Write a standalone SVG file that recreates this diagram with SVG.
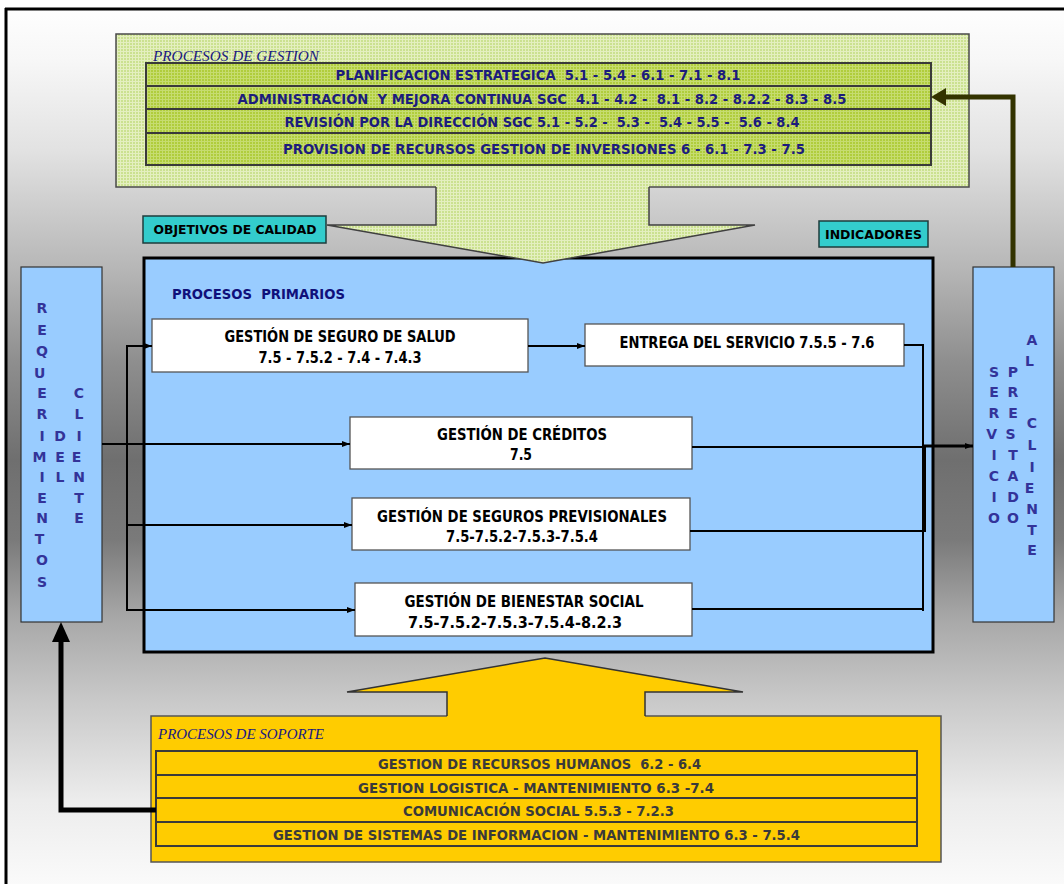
<svg xmlns="http://www.w3.org/2000/svg" width="1064" height="884" viewBox="0 0 1064 884">
  <defs>
    <linearGradient id="bgGrad" gradientUnits="userSpaceOnUse" x1="0" y1="0" x2="0" y2="884">
      <stop offset="0" stop-color="#ffffff"/>
      <stop offset="0.068" stop-color="#f7f7f7"/>
      <stop offset="0.17" stop-color="#e2e2e2"/>
      <stop offset="0.305" stop-color="#b6b6b6"/>
      <stop offset="0.41" stop-color="#8e8e8e"/>
      <stop offset="0.52" stop-color="#6f6f6f"/>
      <stop offset="0.61" stop-color="#7a7a7a"/>
      <stop offset="0.70" stop-color="#a8a8a8"/>
      <stop offset="0.79" stop-color="#c8c8c8"/>
      <stop offset="0.905" stop-color="#ececec"/>
      <stop offset="1" stop-color="#fafafa"/>
    </linearGradient>
    <pattern id="greenLight" width="3" height="3" patternUnits="userSpaceOnUse">
      <rect width="3" height="3" fill="#cbe190"/>
      <rect width="1" height="3" fill="#e4efc0"/>
      <rect width="3" height="1" fill="#e4efc0"/>
    </pattern>
    <pattern id="greenRow" width="3" height="3" patternUnits="userSpaceOnUse">
      <rect width="3" height="3" fill="#b0cd3c"/>
      <rect width="1" height="3" fill="#c6dc70"/>
      <rect width="3" height="1" fill="#c6dc70"/>
    </pattern>
    <marker id="tip" viewBox="0 0 8 6" refX="8" refY="3" markerWidth="8" markerHeight="6" markerUnits="userSpaceOnUse" orient="auto">
      <path d="M0,0 L8,3 L0,6 z" fill="#000"/>
    </marker>
    <style>
      .cond { font-family: "DejaVu Sans Condensed", "DejaVu Sans", "Liberation Sans", sans-serif; font-weight: bold; }
      .mgmt { font-size: 14px; fill: #1c1c7c; text-anchor: middle; }
      .prim { font-size: 15px; fill: #000; text-anchor: middle; }
      .supp { font-size: 14px; fill: #3a3a3a; text-anchor: middle; }
      .tag { font-size: 13px; fill: #000; text-anchor: middle; }
      .title { font-family: "Liberation Serif", serif; font-style: italic; font-size: 15px; fill: #1a1a80; }
      .ptitle { font-size: 14px; fill: #10107a; }
      .vert { font-family: "DejaVu Sans", "Liberation Sans", sans-serif; font-weight: bold; font-size: 14px; fill: #333399; text-anchor: middle; }
      .row { stroke: #3a3a3a; stroke-width: 2; }
      .white { fill: #ffffff; stroke: #555555; stroke-width: 1.3; }
      .side { fill: #99ccff; stroke: #333333; stroke-width: 1.2; }
      .teal { fill: #33cccc; stroke: #1e3c3c; stroke-width: 1.5; }
      .link { fill: none; stroke: #000; stroke-width: 2; }
    </style>
  </defs>

  <!-- page background and frame -->
  <rect x="0" y="0" width="1064" height="884" fill="#ffffff"/>
  <rect x="6" y="9" width="1058" height="875" fill="url(#bgGrad)"/>
  <line x1="6" y1="8" x2="6" y2="884" stroke="#000" stroke-width="3"/>
  <line x1="5" y1="9" x2="1064" y2="9" stroke="#000" stroke-width="3"/>

  <!-- management processes -->
  <g id="procesos-gestion">
    <rect x="116" y="34" width="853" height="153" fill="url(#greenLight)" stroke="#4a4a4a" stroke-width="1.5"/>
    <rect x="146" y="63" width="785" height="23" fill="url(#greenRow)" class="row"/>
    <rect x="146" y="86" width="785" height="23" fill="url(#greenRow)" class="row"/>
    <rect x="146" y="109" width="785" height="24" fill="url(#greenRow)" class="row"/>
    <rect x="146" y="133" width="785" height="32" fill="url(#greenRow)" class="row"/>
    <text class="title" x="153" y="61" textLength="166" lengthAdjust="spacingAndGlyphs">PROCESOS DE GESTION</text>
    <text class="cond mgmt" x="538" y="80" textLength="405" lengthAdjust="spacingAndGlyphs" xml:space="preserve">PLANIFICACION ESTRATEGICA  5.1 - 5.4 - 6.1 - 7.1 - 8.1</text>
    <text class="cond mgmt" x="542" y="104" textLength="609" lengthAdjust="spacingAndGlyphs" xml:space="preserve">ADMINISTRACIÓN  Y MEJORA CONTINUA SGC  4.1 - 4.2 -  8.1 - 8.2 - 8.2.2 - 8.3 - 8.5</text>
    <text class="cond mgmt" x="542" y="127" textLength="515" lengthAdjust="spacingAndGlyphs" xml:space="preserve">REVISIÓN POR LA DIRECCIÓN SGC 5.1 - 5.2 -  5.3 -  5.4 - 5.5 -  5.6 - 8.4</text>
    <text class="cond mgmt" x="544" y="154" textLength="522" lengthAdjust="spacingAndGlyphs">PROVISION DE RECURSOS GESTION DE INVERSIONES 6 - 6.1 - 7.3 - 7.5</text>
  </g>

  <g id="objetivos-calidad">
    <rect x="143" y="216" width="183" height="27" class="teal"/>
    <text class="cond tag" x="235" y="234" textLength="163" lengthAdjust="spacingAndGlyphs">OBJETIVOS DE CALIDAD</text>
  </g>
  <g id="indicadores">
    <rect x="819" y="221" width="109" height="26" class="teal"/>
    <text class="cond tag" x="873.5" y="239" textLength="97" lengthAdjust="spacingAndGlyphs">INDICADORES</text>
  </g>

  <!-- client requirements -->
  <g id="requerimientos">
    <rect x="21" y="267" width="81" height="355" class="side"/>
    <text class="vert">
      <tspan x="42" y="313">R</tspan><tspan x="42" y="335">E</tspan><tspan x="42" y="356">Q</tspan><tspan x="42" y="378">U</tspan>
      <tspan x="42" y="398">E</tspan><tspan x="42" y="419">R</tspan><tspan x="42" y="441">I</tspan><tspan x="42" y="462">M</tspan>
      <tspan x="42" y="482">I</tspan><tspan x="42" y="503">E</tspan><tspan x="42" y="523">N</tspan><tspan x="42" y="544">T</tspan>
      <tspan x="42" y="565">O</tspan><tspan x="42" y="587">S</tspan>
    </text>
    <text class="vert">
      <tspan x="60" y="441">D</tspan><tspan x="60" y="462">E</tspan><tspan x="60" y="482">L</tspan>
    </text>
    <text class="vert">
      <tspan x="79" y="398">C</tspan><tspan x="79" y="419">L</tspan><tspan x="79" y="441">I</tspan><tspan x="79" y="462">E</tspan>
      <tspan x="79" y="482">N</tspan><tspan x="79" y="503">T</tspan><tspan x="79" y="523">E</tspan>
    </text>
  </g>

  <!-- service delivered -->
  <g id="servicio-prestado">
    <rect x="973" y="267" width="81" height="355" class="side"/>
    <text class="vert">
      <tspan x="994" y="377">S</tspan><tspan x="994" y="397">E</tspan><tspan x="994" y="418">R</tspan><tspan x="994" y="439">V</tspan>
      <tspan x="994" y="460">I</tspan><tspan x="994" y="481">C</tspan><tspan x="994" y="502">I</tspan><tspan x="994" y="523">O</tspan>
    </text>
    <text class="vert">
      <tspan x="1013" y="377">P</tspan><tspan x="1013" y="397">R</tspan><tspan x="1013" y="418">E</tspan><tspan x="1013" y="439">S</tspan>
      <tspan x="1013" y="460">T</tspan><tspan x="1013" y="481">A</tspan><tspan x="1013" y="502">D</tspan><tspan x="1013" y="523">O</tspan>
    </text>
    <text class="vert">
      <tspan x="1032" y="345">A</tspan><tspan x="1032" y="366">L</tspan>
      <tspan x="1032" y="428">C</tspan><tspan x="1032" y="450">L</tspan><tspan x="1032" y="472">I</tspan><tspan x="1032" y="493">E</tspan>
      <tspan x="1032" y="514">N</tspan><tspan x="1032" y="535">T</tspan><tspan x="1032" y="555">E</tspan>
    </text>
  </g>

  <!-- primary processes -->
  <g id="procesos-primarios">
    <rect x="144" y="258" width="789" height="394" fill="#99ccff" stroke="#000" stroke-width="3"/>
    <text class="cond ptitle" x="172" y="299" textLength="173" lengthAdjust="spacingAndGlyphs" xml:space="preserve">PROCESOS  PRIMARIOS</text>
  </g>

  <!-- management arrow into primary processes -->
  <g id="flecha-gestion">
    <polygon points="436,186 436,225 327,225 543,263 755,225 649,225 649,186" fill="url(#greenLight)"/>
    <polyline points="436,187 436,225 327,225 543,263 755,225 649,225 649,187" fill="none" stroke="#404040" stroke-width="1.5"/>
  </g>

  <g id="seguro-salud">
    <rect x="152" y="319" width="376" height="53" class="white"/>
    <text class="cond prim" x="340" y="342" textLength="231" lengthAdjust="spacingAndGlyphs">GESTIÓN DE SEGURO DE SALUD</text>
    <text class="cond prim" x="340" y="363" textLength="163" lengthAdjust="spacingAndGlyphs">7.5 - 7.5.2 - 7.4 - 7.4.3</text>
  </g>
  <g id="entrega-servicio">
    <rect x="585" y="324" width="319" height="42" class="white"/>
    <text class="cond prim" x="747" y="348" textLength="255" lengthAdjust="spacingAndGlyphs">ENTREGA DEL SERVICIO 7.5.5 - 7.6</text>
  </g>
  <g id="creditos">
    <rect x="350" y="417" width="342" height="52" class="white"/>
    <text class="cond prim" x="522" y="440" textLength="170" lengthAdjust="spacingAndGlyphs">GESTIÓN DE CRÉDITOS</text>
    <text class="cond prim" x="521" y="460" textLength="22" lengthAdjust="spacingAndGlyphs">7.5</text>
  </g>
  <g id="seguros-previsionales">
    <rect x="352" y="498" width="338" height="52" class="white"/>
    <text class="cond prim" x="522" y="522" textLength="290" lengthAdjust="spacingAndGlyphs">GESTIÓN DE SEGUROS PREVISIONALES</text>
    <text class="cond prim" x="522" y="542" textLength="152" lengthAdjust="spacingAndGlyphs">7.5-7.5.2-7.5.3-7.5.4</text>
  </g>
  <g id="bienestar-social">
    <rect x="355" y="583" width="337" height="53" class="white"/>
    <text class="cond prim" x="524" y="607" textLength="239" lengthAdjust="spacingAndGlyphs">GESTIÓN DE BIENESTAR SOCIAL</text>
    <text class="cond prim" x="515" y="628" textLength="214" lengthAdjust="spacingAndGlyphs">7.5-7.5.2-7.5.3-7.5.4-8.2.3</text>
  </g>

  <!-- support processes -->
  <g id="procesos-soporte">
    <rect x="151" y="716" width="790" height="146" fill="#ffcc00" stroke="#555555" stroke-width="1.5"/>
    <polygon points="447,718 447,692 347,692 545,658 743,692 645,692 645,718" fill="#ffcc00"/>
    <polyline points="447,716 447,692 347,692 545,658 743,692 645,692 645,716" fill="none" stroke="#333333" stroke-width="1.5"/>
    <text class="title" x="158" y="739" textLength="166" lengthAdjust="spacingAndGlyphs">PROCESOS DE SOPORTE</text>
    <rect x="156" y="751" width="761" height="24" fill="#ffcc00" class="row"/>
    <rect x="156" y="775" width="761" height="23" fill="#ffcc00" class="row"/>
    <rect x="156" y="798" width="761" height="24" fill="#ffcc00" class="row"/>
    <rect x="156" y="822" width="761" height="24" fill="#ffcc00" class="row"/>
    <text class="cond supp" x="539.5" y="769" textLength="323" lengthAdjust="spacingAndGlyphs" xml:space="preserve">GESTION DE RECURSOS HUMANOS  6.2 - 6.4</text>
    <text class="cond supp" x="536" y="793" textLength="356" lengthAdjust="spacingAndGlyphs">GESTION LOGISTICA - MANTENIMIENTO 6.3 -7.4</text>
    <text class="cond supp" x="538.5" y="816" textLength="271" lengthAdjust="spacingAndGlyphs">COMUNICACIÓN SOCIAL 5.5.3 - 7.2.3</text>
    <text class="cond supp" x="536.5" y="840" textLength="527" lengthAdjust="spacingAndGlyphs">GESTION DE SISTEMAS DE INFORMACION - MANTENIMIENTO 6.3 - 7.5.4</text>
  </g>

  <!-- connectors -->
  <g id="conectores">
    <!-- requirements fan-out -->
    <path class="link" d="M102,444 H350" marker-end="url(#tip)"/>
    <path class="link" d="M127,345 V611"/>
    <path class="link" d="M126,346 H152" marker-end="url(#tip)"/>
    <path class="link" d="M126,525 H352" marker-end="url(#tip)"/>
    <path class="link" d="M126,610 H355" marker-end="url(#tip)"/>
    <path class="link" d="M528,346 H585" marker-end="url(#tip)"/>
    <!-- collection towards the delivered service -->
    <path class="link" d="M904,345 H923 V611"/>
    <path class="link" d="M692,447 H923"/>
    <path class="link" d="M690,531 H925 V446"/>
    <path class="link" d="M692,609 H924"/>
    <path d="M923,446 H973" fill="none" stroke="#000" stroke-width="3" marker-end="url(#tip)"/>
    <!-- feedback from service to management -->
    <path d="M1013,267 V97 H944" fill="none" stroke="#333300" stroke-width="5"/>
    <polygon points="931,97 946,88 946,106" fill="#333300"/>
    <!-- communication back to requirements -->
    <path d="M156,810 H61 V640" fill="none" stroke="#000" stroke-width="5"/>
    <polygon points="61,622 52,642 70,642" fill="#000"/>
  </g>
</svg>
